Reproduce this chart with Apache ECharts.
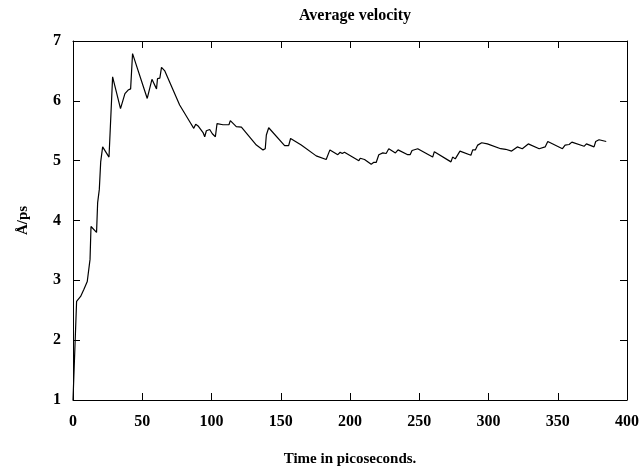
<!DOCTYPE html>
<html>
<head>
<meta charset="utf-8">
<script src="https://cdn.jsdelivr.net/npm/echarts@6/dist/echarts.min.js"></script>
<style>
  html, body { margin: 0; padding: 0; background: #fff; }
  #chart { width: 642px; height: 472px; }
</style>
</head>
<body>
<div id="chart"></div>
<script>
// time (ps) and average velocity (Å/ps)
var timeValues = [0, 2.6, 5.5, 7.9, 10.3, 12.3, 13, 17, 17.8, 19, 20, 21.4, 26, 28.6, 34.3, 37.5, 39.8, 41.6, 43,
  53.6, 57, 60.3, 61, 62.7, 63.9, 66.3, 77, 84.3, 87.2, 88.6, 90.3, 93.9, 95.1, 96.3, 97.5, 98.7, 100.6, 102.8,
  104, 105.4, 108.3, 112.6, 113.6, 117.9, 121.6, 132.4, 137.2, 138.8, 139.6, 141.3, 152.8, 155.7, 157.1, 164.8,
  166, 175.6, 182.8, 185.5, 191.2, 192.9, 194.4, 196, 206.4, 207.4, 210.5, 215.3, 217, 218.9, 220.8, 223.7,
  226.1, 228, 232.8, 234.7, 241.7, 243.4, 244.8, 248.9, 259.7, 260.9, 272.9, 274.1, 276, 279.4, 287.3, 288.6,
  290.5, 292.2, 293.3, 295.1, 299.2, 308.8, 312.4, 316.7, 320.8, 324.4, 328.7, 336.6, 340.9, 342.8, 353.4,
  355.3, 358.2, 360.2, 369, 370.7, 376.2, 377.4, 379.8, 385];
var velocityValues = [1.0, 2.65, 2.73, 2.85, 2.98, 3.35, 3.9, 3.8, 4.3, 4.52, 4.98, 5.23, 5.06, 6.4, 5.87, 6.12, 6.18, 6.2, 6.79,
  6.04, 6.36, 6.2, 6.37, 6.38, 6.56, 6.5, 5.93, 5.65, 5.54, 5.61, 5.58, 5.47, 5.4, 5.5, 5.47, 5.52, 5.45, 5.4,
  5.62, 5.62, 5.6, 5.6, 5.67, 5.57, 5.56, 5.26, 5.18, 5.2, 5.43, 5.55, 5.25, 5.25, 5.37, 5.26,
  5.27, 5.08, 5.02, 5.18, 5.1, 5.14, 5.12, 5.14, 5.0, 5.04, 5.02, 4.94, 4.97, 4.97, 5.1, 5.13,
  5.12, 5.2, 5.13, 5.18, 5.1, 5.1, 5.17, 5.2, 5.06, 5.15, 4.98, 5.06, 5.03, 5.16, 5.09, 5.18,
  5.18, 5.26, 5.25, 5.3, 5.28, 5.2, 5.19, 5.16, 5.23, 5.2, 5.28, 5.2, 5.23, 5.32, 5.2,
  5.26, 5.27, 5.31, 5.24, 5.28, 5.23, 5.32, 5.35, 5.32];

var seriesData = timeValues.map(function (t, i) { return [t, velocityValues[i]]; });

var fontFamily = "Liberation Serif";
var chart = echarts.init(document.getElementById("chart"));

// mirrored axes on top / right: ticks only, no labels
var hiddenAxis = function (pos, isX) {
  return {
    type: 'value',
    position: pos,
    min: isX ? 0 : 1,
    max: isX ? 400 : 7,
    interval: isX ? 50 : 1,
    axisLine: { show: true, onZero: false, lineStyle: { color: '#000', width: 1 } },
    axisTick: { show: true, inside: true, length: 7, lineStyle: { color: '#000' } },
    axisLabel: { show: false },
    splitLine: { show: false }
  };
};

var option = {
  animation: false,
  title: {
    text: 'Average velocity',
    left: 350,
    textAlign: 'center',
    top: 3,
    textStyle: { fontFamily: fontFamily, fontWeight: 'bold', fontSize: 16, color: '#000' }
  },
  grid: { left: 73, right: 14, top: 41, bottom: 71 },
  xAxis: [
    {
      type: 'value',
      min: 0,
      max: 400,
      interval: 50,
      name: 'Time in picoseconds.',
      nameLocation: 'middle',
      nameGap: 52,
      nameTextStyle: { fontFamily: fontFamily, fontWeight: 'bold', fontSize: 15, color: '#000' },
      axisLine: { show: true, onZero: false, lineStyle: { color: '#000', width: 1 } },
      axisTick: { show: true, inside: true, length: 7, lineStyle: { color: '#000' } },
      axisLabel: { fontFamily: fontFamily, fontWeight: 'bold', fontSize: 16, color: '#000', margin: 14 },
      splitLine: { show: false }
    },
    hiddenAxis('top', true)
  ],
  yAxis: [
    {
      type: 'value',
      min: 1,
      max: 7,
      interval: 1,
      name: 'Å/ps',
      nameLocation: 'middle',
      nameGap: 42,
      nameRotate: 90,
      nameTextStyle: { fontFamily: fontFamily, fontWeight: 'bold', fontSize: 15, color: '#000' },
      axisLine: { show: true, onZero: false, lineStyle: { color: '#000', width: 1 } },
      axisTick: { show: true, inside: true, length: 7, lineStyle: { color: '#000' } },
      axisLabel: { fontFamily: fontFamily, fontWeight: 'bold', fontSize: 16, color: '#000', margin: 12 },
      splitLine: { show: false }
    },
    hiddenAxis('right', false)
  ],
  series: [
    {
      type: 'line',
      data: seriesData,
      showSymbol: false,
      lineStyle: { color: '#000', width: 1.2 },
      xAxisIndex: 0,
      yAxisIndex: 0
    }
  ]
};
chart.setOption(option);
</script>
</body>
</html>
